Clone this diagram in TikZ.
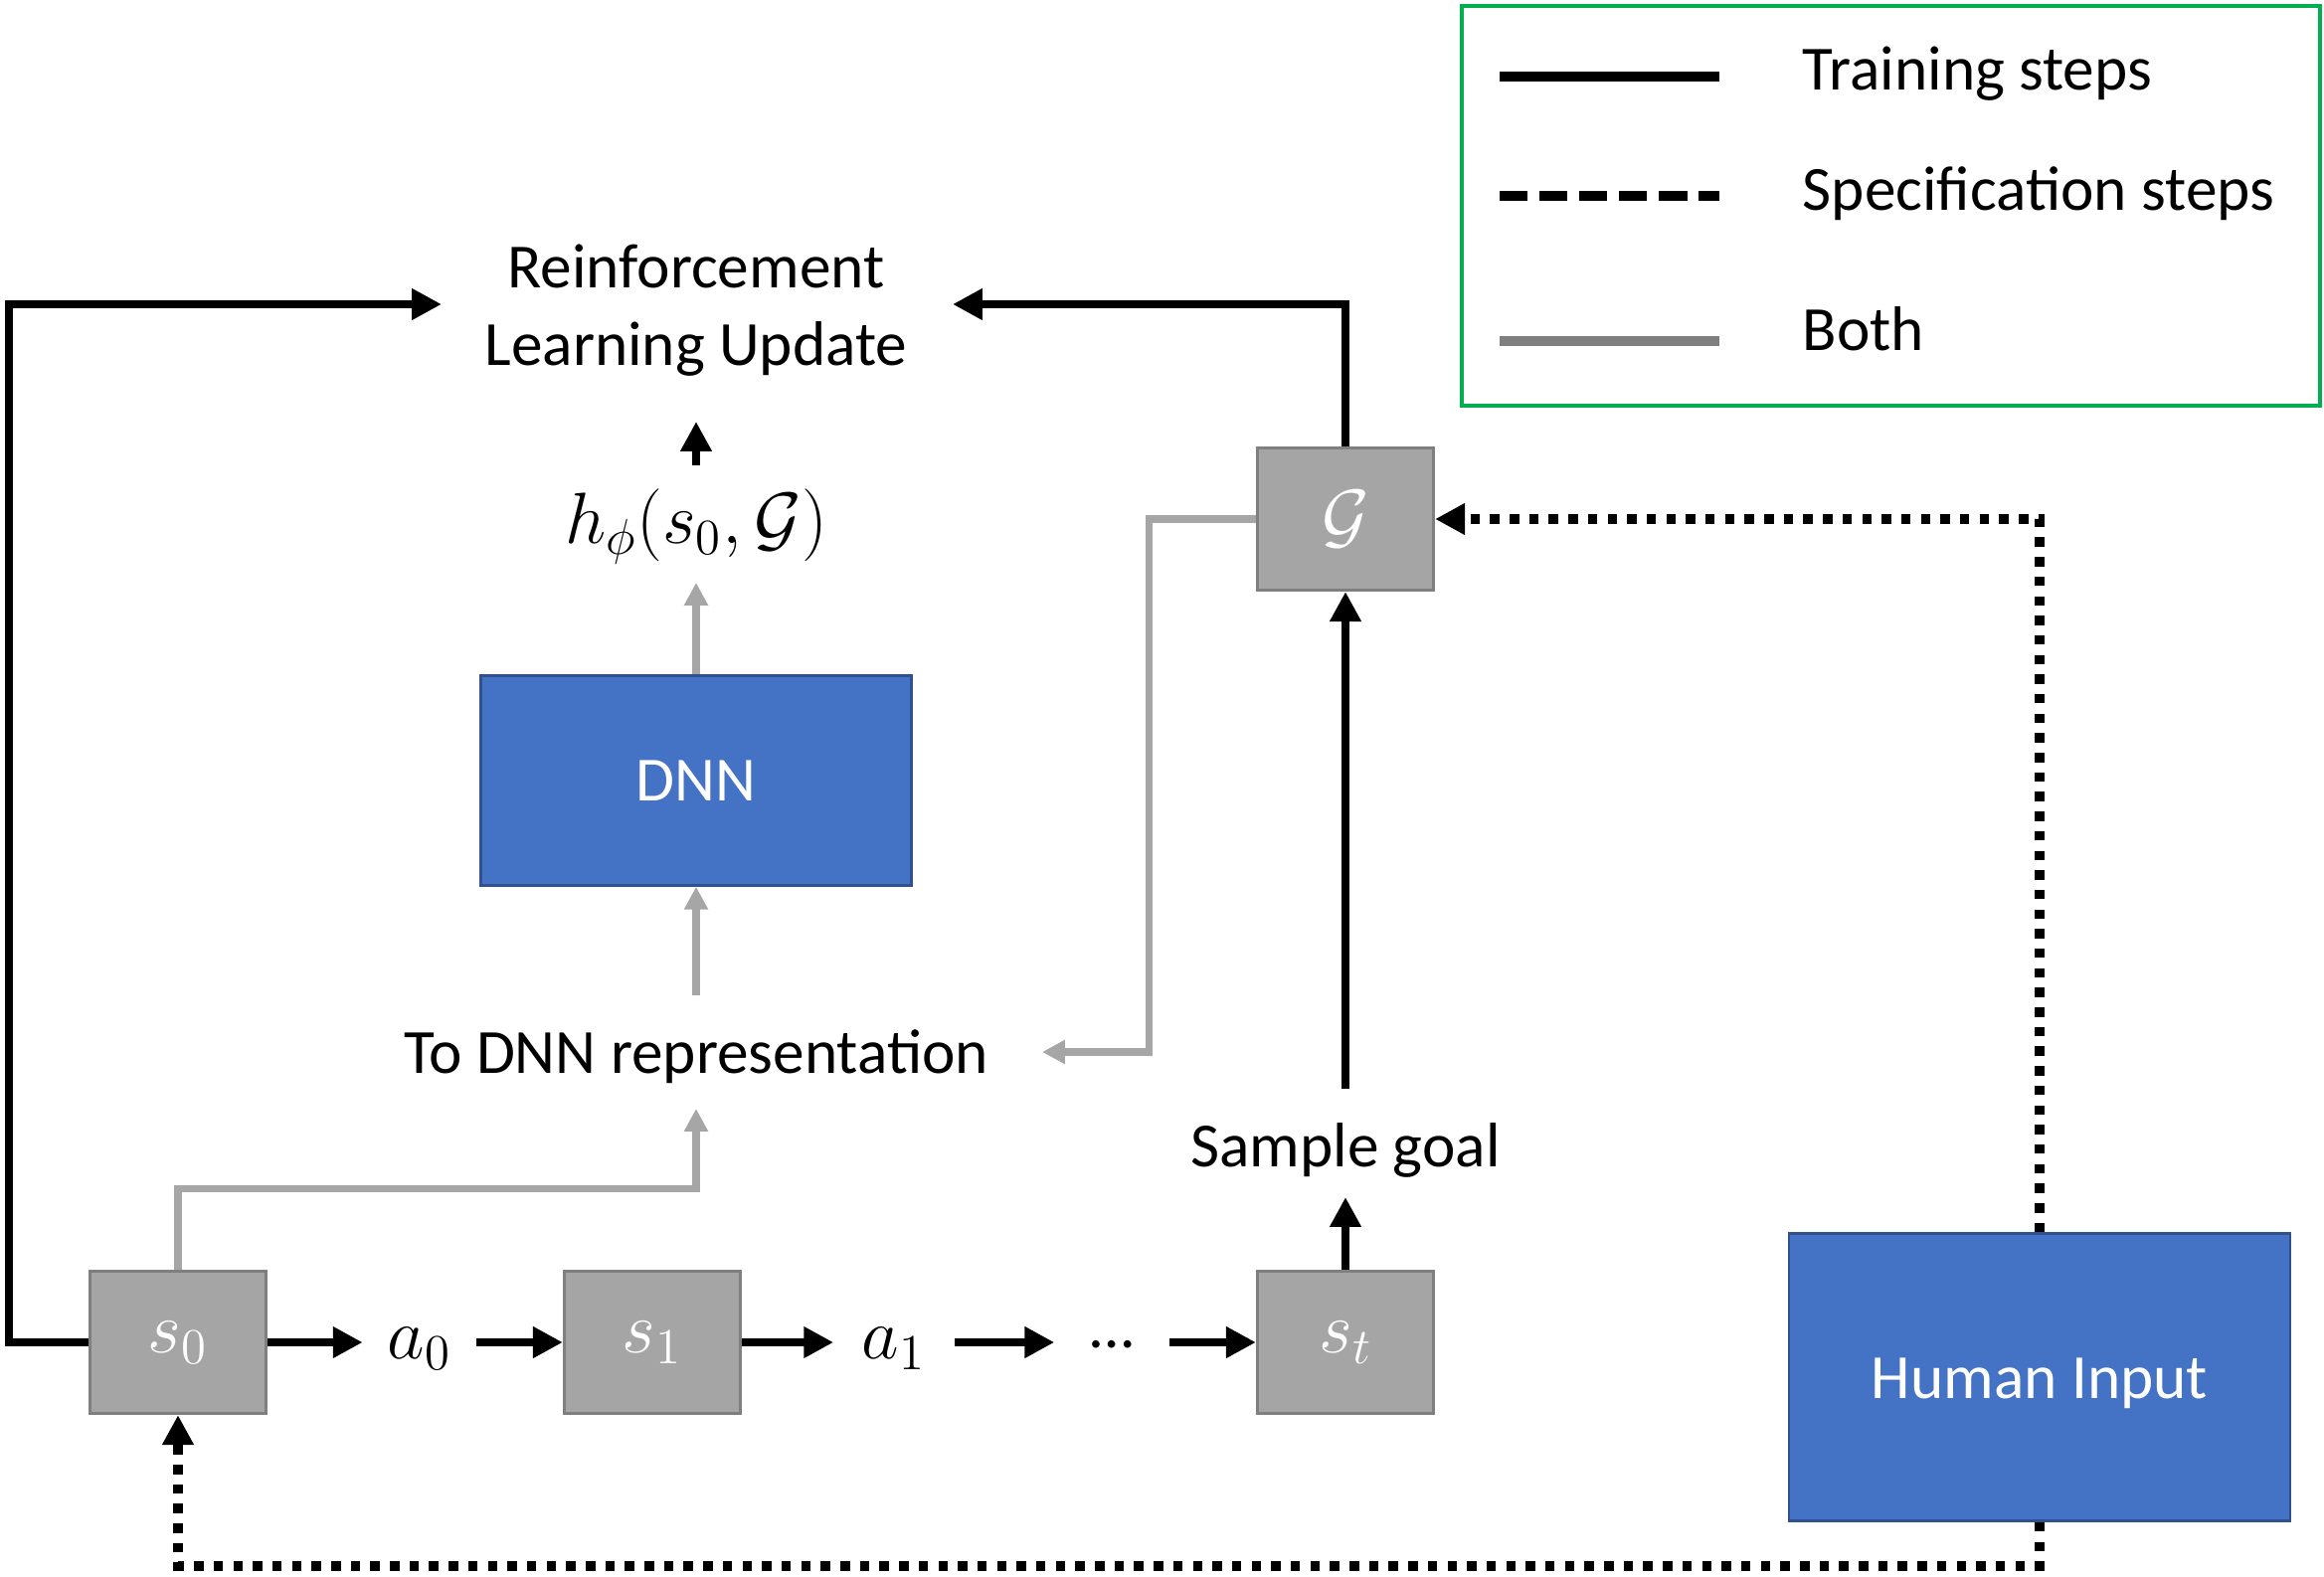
\documentclass[tikz,border=0pt]{standalone}
\usepackage{fontspec}
\setmainfont{Carlito}
\usetikzlibrary{arrows.meta}
\definecolor{boxgray}{HTML}{A5A5A5}
\definecolor{boxedge}{HTML}{7F7F7F}
\definecolor{linegray}{HTML}{A6A6A6}
\definecolor{dnnblue}{HTML}{4472C4}
\definecolor{dnnedge}{HTML}{2F528F}
\definecolor{leggreen}{HTML}{00B050}
\tikzset{
  txt/.style={font=\fontsize{18}{22}\selectfont, inner sep=0pt, align=center},
  mtxt/.style={font=\fontsize{21}{25}\selectfont, inner sep=0pt, align=center},
  statebox/.style={draw=boxedge, fill=boxgray, line width=0.9pt, minimum width=1.77cm, minimum height=1.43cm, inner sep=0pt, text=white, font=\fontsize{21}{25}\selectfont},
  bluebox/.style={draw=dnnedge, fill=dnnblue, line width=0.7pt, inner sep=0pt, text=white, font=\fontsize{18}{22}\selectfont},
  blk/.style={draw=black, line width=2.5pt, -{Triangle[length=8.5pt,width=8.5pt]}},
  gry/.style={draw=linegray, line width=2pt, -{Triangle[length=6.5pt,width=6.5pt]}},
  dotline/.style={draw=black, line width=2.7pt, dash pattern=on 2.7pt off 2.9pt, -{Triangle[length=8.5pt,width=8.5pt]}},
}
\begin{document}
\begin{tikzpicture}[x={(0.01cm,0)}, y={(0,-0.01cm)}]
\useasboundingbox (0,0) rectangle (2337,1585);

% legend
\draw[leggreen, line width=1.3pt] (1470,6) rectangle (2333,408);
\coordinate (l1a) at (1508,77);  \coordinate (l1b) at (1729,77);
\coordinate (l2a) at (1508,197); \coordinate (l2b) at (1729,197);
\coordinate (l3a) at (1508,343); \coordinate (l3b) at (1729,343);
\draw[black, line width=3pt] (l1a) -- (l1b);
\draw[black, line width=3pt, dash pattern=on 8pt off 3.4pt] (l2a) -- (l2b);
\draw[boxedge, line width=3pt] (l3a) -- (l3b);
\node[txt, anchor=west] (lt1) at (1812,74) {Training steps};
\node[txt, anchor=west] (lt2) at (1812,195) {Specification steps};
\node[txt, anchor=west] (lt3) at (1812,331) {Both};

% nodes
\node[txt] (RL) at (700,312) {Reinforcement\\Learning Update};
\node[mtxt] (h) at (700,530) {$h_{\phi}(s_0,\mathcal{G})$};
\node[bluebox, minimum width=4.33cm, minimum height=2.11cm] (DNN) at (700,785) {DNN};
\node[txt] (tdnn) at (700,1063) {To DNN representation};
\node[statebox] (G) at (1353,522) {$\mathcal{G}$};
\node[txt] (sg) at (1353,1157) {Sample goal};
\node[statebox] (s0) at (179,1350) {$s_0$};
\node[mtxt, inner xsep=7pt] (a0) at (422,1356) {$a_0$};
\node[statebox] (s1) at (656,1350) {$s_1$};
\node[mtxt, inner xsep=8pt] (a1) at (899,1356) {$a_1$};
\node[txt, inner xsep=10pt] (dots) at (1118,1352) {\ldots};
\node[statebox] (st) at (1353,1350) {$s_t$};
\node[bluebox, minimum width=5.04cm, minimum height=2.89cm] (HI) at (2051,1385) {};
\node[txt, text=white] (HIt) at (2051,1391) {Human Input};

% free ends
\coordinate (rlL) at (444,306);
\coordinate (rlR) at (958,306);
\coordinate (rlB) at (700,424);
\coordinate (hT) at (700,468);
\coordinate (hB) at (700,586);
\coordinate (tdT) at (700,1001);
\coordinate (tdR) at (1048,1058);
\coordinate (tdB) at (700,1115);
\coordinate (sgT) at (1353,1095);
\coordinate (sgB) at (1353,1204);

% black connectors
\draw[blk] (s0.west) -| (9,306) -- (rlL);
\draw[blk] (G.north) |- (rlR);
\draw[blk] (hT) -- (rlB);
\draw[blk] (sgT) -- (G.south);
\draw[blk] (st.north) -- (sgB);
\draw[blk] (s0.east) -- (a0.west |- s0.east);
\draw[blk] (a0.east |- s1.west) -- (s1.west);
\draw[blk] (s1.east) -- (a1.west |- s1.east);
\draw[blk] (a1.east |- s1.east) -- (dots.west |- s1.east);
\draw[blk] (dots.east |- st.west) -- (st.west);

% gray connectors
\draw[gry] (DNN.north) -- (hB);
\draw[gry] (tdT) -- (DNN.south);
\draw[gry] (G.west) -| (1155,1058) -- (tdR);
\draw[gry] (s0.north) |- (700,1195) -- (tdB);

% dotted connectors
\draw[dotline] (HI.north) |- (G.east);
\draw[dotline] (HI.south) -- (2051,1575) -| (s0.south);
\end{tikzpicture}
\end{document}
